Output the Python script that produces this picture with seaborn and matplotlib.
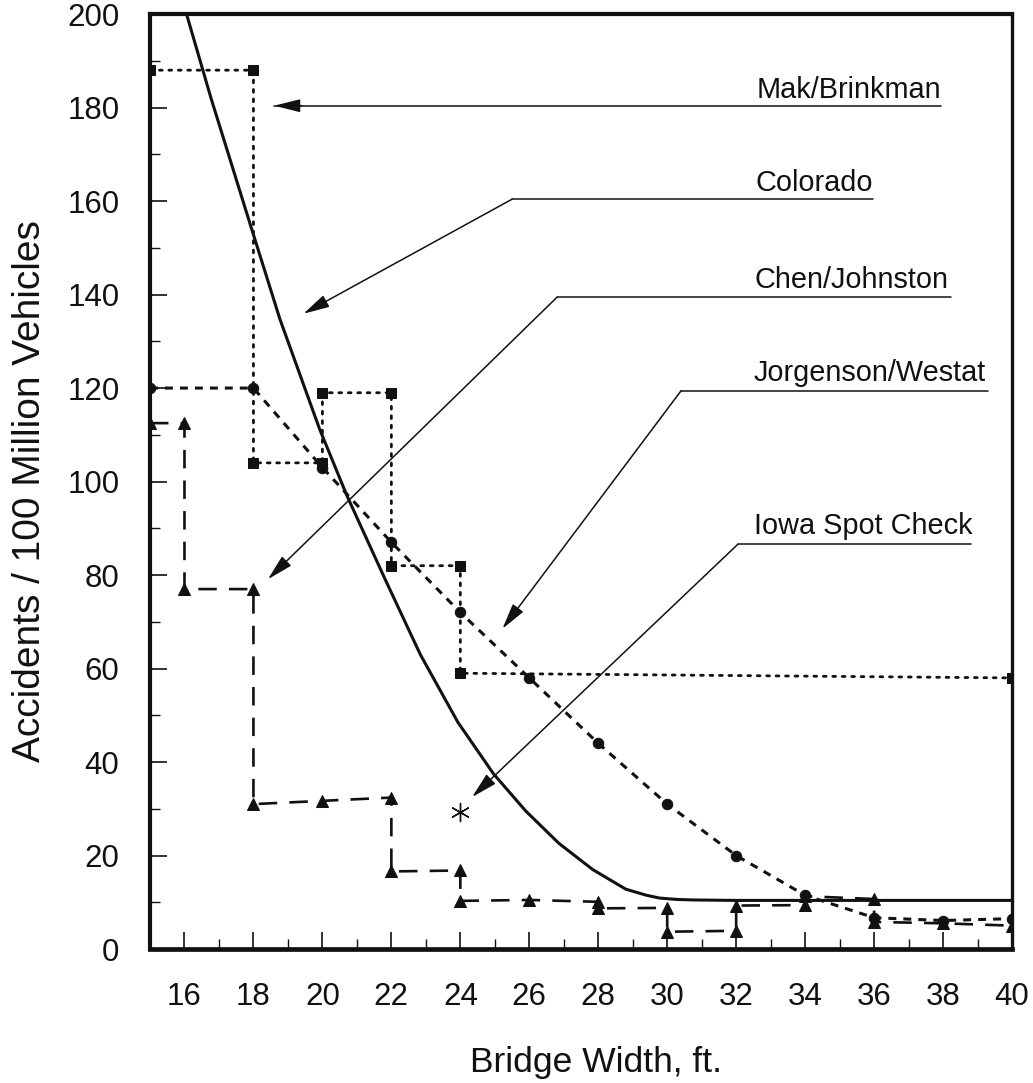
import numpy as np
import pandas as pd
import matplotlib
matplotlib.use("Agg")
import matplotlib.pyplot as plt
import seaborn as sns
from matplotlib.ticker import MultipleLocator

# ---------------- data ----------------
mak_x = [15, 18, 18, 20, 20, 22, 22, 24, 24, 40]
mak_y = [188, 188, 104, 104, 119, 119, 82, 82, 59, 58]

colorado_x = [16.06, 16.77, 17.92, 18.77, 19.92, 20.71, 21.8, 22.84, 23.93, 24.96,
              25.9, 26.86, 27.84, 28.8, 29.4, 29.78, 30.3, 30.75, 32, 40]
colorado_y = [200, 182, 154.7, 134.7, 111.2, 97, 79.4, 63, 48.5, 37.5,
              29.5, 22.6, 17, 12.8, 11.5, 10.9, 10.6, 10.5, 10.4, 10.4]

jorg_x = [15, 18, 20, 22, 24, 26, 28, 30, 32, 34, 36, 38, 40]
jorg_y = [120, 120, 103, 87, 72, 58, 44, 31, 20, 11.5, 6.7, 6.1, 6.5]

chen_x = [15, 16, 16, 18, 18, 20, 22, 22, 24, 24, 26, 28, 28, 30, 30, 32, 32, 34, 34, 36, 36, 38, 40]
chen_y = [112.5, 112.5, 77, 77, 31, 31.7, 32.4, 16.6, 16.8, 10.3, 10.5, 10.1, 8.7, 8.8,
          3.7, 3.9, 9.3, 9.4, 11.3, 10.7, 5.8, 5.5, 5.0]

iowa_x = [24]
iowa_y = [29.3]

series_names = ["Mak/Brinkman", "Colorado", "Chen/Johnston", "Jorgenson/Westat", "Iowa Spot Check"]

x_ticks = list(range(16, 41, 2))
y_ticks = list(range(0, 201, 20))

# annotation geometry (data coordinates)
label_x = [32.6, 32.57, 32.53, 32.5, 32.52]
label_y = [182.0, 162.1, 141.5, 121.5, 88.7]
under_y = [180.4, 160.4, 139.4, 119.4, 86.6]
under_x0 = [18.6, 25.5, 26.8, 30.4, 32.05]
under_x1 = [37.95, 35.98, 38.22, 39.3, 38.82]
tip_x = [18.6, 19.45, 18.42, 25.22, 24.34]
tip_y = [180.4, 135.9, 79.1, 68.5, 32.5]

# ---------------- styling ----------------
sns.set_theme(style="ticks")
plt.rcParams["font.family"] = ["Liberation Sans", "DejaVu Sans"]

fig = plt.figure(figsize=(10.33, 10.83), dpi=100, facecolor="white")
ax = fig.add_axes([0.1452, 0.1237, 0.8345, 0.8633])
ax.set_facecolor("white")

ink = "#111111"

df_mak = pd.DataFrame({"x": mak_x, "y": mak_y})
sns.lineplot(data=df_mak, x="x", y="y", sort=False, estimator=None, ax=ax,
             color=ink, lw=2.0, linestyle=(0, (1.0, 2.4)), marker="s",
             markersize=6.5, markeredgecolor=ink, markerfacecolor=ink,
             dash_capstyle="round", zorder=3)

df_col = pd.DataFrame({"x": colorado_x, "y": colorado_y})
sns.lineplot(data=df_col, x="x", y="y", sort=False, estimator=None, ax=ax,
             color=ink, lw=2.2, zorder=3)

df_jor = pd.DataFrame({"x": jorg_x, "y": jorg_y})
sns.lineplot(data=df_jor, x="x", y="y", sort=False, estimator=None, ax=ax,
             color=ink, lw=2.2, linestyle=(0, (2.6, 2.3)), marker="o",
             markersize=7.5, markeredgecolor=ink, markerfacecolor=ink, zorder=3)

df_chen = pd.DataFrame({"x": chen_x, "y": chen_y})
sns.lineplot(data=df_chen, x="x", y="y", sort=False, estimator=None, ax=ax,
             color=ink, lw=1.9, linestyle=(0, (7.0, 4.6)), marker="^",
             markersize=8, markeredgecolor=ink, markerfacecolor=ink, zorder=3)

df_iowa = pd.DataFrame({"x": iowa_x, "y": iowa_y})
sns.scatterplot(data=df_iowa, x="x", y="y", ax=ax, marker=(6, 2, 0), s=170,
                color=ink, linewidth=1.0, zorder=3)

# annotations
astyle = "-|>,head_length=0.8,head_width=0.2"
for name, lx, ly, uy, ux0, ux1, tx, ty in zip(series_names, label_x, label_y, under_y,
                                              under_x0, under_x1, tip_x, tip_y):
    ax.plot([ux0, ux1], [uy, uy], color=ink, lw=1.1, zorder=2)
    start = (ux0, uy) if (tx, ty) != (ux0, uy) else (tx + 0.8, uy)
    ax.annotate("", xy=(tx, ty), xytext=start,
                arrowprops=dict(arrowstyle=astyle, color=ink, lw=1.1,
                                mutation_scale=20, shrinkA=0, shrinkB=0),
                zorder=2)
    ax.text(lx, ly, name, fontsize=20.8, ha="left", va="baseline", color=ink)

# axes
ax.set_xlim(15, 40)
ax.set_ylim(0, 200)
ax.set_xticks(x_ticks)
ax.set_yticks(y_ticks)
ax.xaxis.set_minor_locator(MultipleLocator(1))
ax.yaxis.set_minor_locator(MultipleLocator(10))
ax.tick_params(which="major", direction="in", length=12, width=1.2, color=ink,
               labelsize=22.5, labelcolor=ink)
ax.tick_params(axis="x", which="major", pad=24)
ax.tick_params(axis="y", which="major", pad=22)
ax.tick_params(which="minor", direction="in", length=7, width=1.0, color=ink)
ax.tick_params(top=False, right=False, which="both")

for side, w in [("left", 3.0), ("bottom", 3.4), ("top", 3.0), ("right", 2.4)]:
    ax.spines[side].set_visible(True)
    ax.spines[side].set_linewidth(w)
    ax.spines[side].set_color(ink)

ax.set_xlabel("Bridge Width, ft.", fontsize=25.5, color=ink)
ax.set_ylabel("Accidents / 100 Million Vehicles", fontsize=28, color=ink)
ax.xaxis.set_label_coords(0.517, -0.104)
ax.yaxis.set_label_coords(-0.118, 0.49)
ax.grid(False)

fig.savefig("out.png", dpi=100, facecolor="white")
